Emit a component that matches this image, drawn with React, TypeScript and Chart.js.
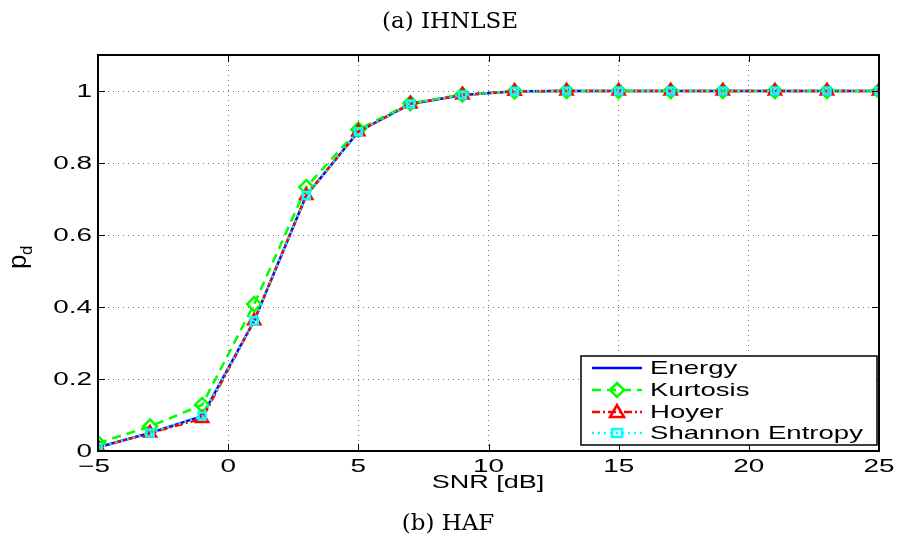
import React, { useEffect, useRef } from "react";
import { Chart, registerables } from "chart.js";

Chart.register(...registerables);

const snr = [-5, -3, -1, 1, 3, 5, 7, 9, 11, 13, 15, 17, 19, 21, 23, 25];
const energy = [0.01, 0.05, 0.097, 0.362, 0.71, 0.887, 0.964, 0.989, 0.999, 1, 1, 1, 1, 1, 1, 1];
const kurtosis = [0.022, 0.068, 0.128, 0.408, 0.733, 0.893, 0.966, 0.99, 0.999, 1, 1, 1, 1, 1, 1, 1];
const hoyer = [0.01, 0.05, 0.09, 0.362, 0.71, 0.887, 0.964, 0.989, 0.999, 1, 1, 1, 1, 1, 1, 1];
const shannon = [0.01, 0.05, 0.097, 0.362, 0.71, 0.887, 0.964, 0.989, 0.999, 1, 1, 1, 1, 1, 1, 1];
const seriesNames = ["Energy", "Kurtosis", "Hoyer", "Shannon Entropy"];
const xTicks = [-5, 0, 5, 10, 15, 20, 25];
const yTicks = [0, 0.2, 0.4, 0.6, 0.8, 1];

const SANS = "'Liberation Sans', Arial, sans-serif";
const SERIF = "'DejaVu Serif', 'Liberation Serif', serif";

const styles = [
  { color: "#0000ff", dash: [] as number[], marker: "none" },
  { color: "#00ff00", dash: [9, 6], marker: "rectRot" },
  { color: "#ff0000", dash: [8, 3, 2, 3], marker: "triangle" },
  { color: "#00ffff", dash: [2, 4], marker: "rect" },
];

function drawMarker(ctx: CanvasRenderingContext2D, kind: string, x: number, y: number, color: string) {
  ctx.save();
  ctx.setLineDash([]);
  ctx.strokeStyle = color;
  ctx.lineWidth = 2.5;
  ctx.beginPath();
  if (kind === "rectRot") {
    ctx.moveTo(x, y - 7);
    ctx.lineTo(x + 7, y);
    ctx.lineTo(x, y + 7);
    ctx.lineTo(x - 7, y);
    ctx.closePath();
  } else if (kind === "triangle") {
    ctx.moveTo(x, y - 7);
    ctx.lineTo(x + 7, y + 5);
    ctx.lineTo(x - 7, y + 5);
    ctx.closePath();
  } else if (kind === "rect") {
    ctx.rect(x - 5, y - 4, 10, 8);
  }
  if (kind !== "none") ctx.stroke();
  ctx.restore();
}

function stretchText(
  ctx: CanvasRenderingContext2D,
  text: string,
  x: number,
  y: number,
  align: "left" | "center" | "right",
  size: number,
  sx: number
) {
  ctx.save();
  ctx.font = `${size}px ${SANS}`;
  ctx.textBaseline = "middle";
  ctx.textAlign = "left";
  const w = ctx.measureText(text).width * sx;
  let left = x;
  if (align === "center") left = x - w / 2;
  if (align === "right") left = x - w;
  ctx.translate(left, y);
  ctx.scale(sx, 1);
  ctx.fillStyle = "#000";
  ctx.fillText(text, 0, 0);
  ctx.restore();
}

const fmtX = (v: number) => String(v).replace("-", "\u2212");
const fmtY = (v: number) => String(Number(v.toFixed(1)));

const framePlugin = {
  id: "frame",
  afterDraw(chart: any) {
    const ctx: CanvasRenderingContext2D = chart.ctx;
    const a = chart.chartArea;
    const xs = chart.scales.x;
    const ys = chart.scales.y;
    ctx.save();
    // inward ticks
    ctx.strokeStyle = "#000";
    ctx.lineWidth = 1;
    ctx.beginPath();
    xTicks.forEach((v) => {
      const px = Math.round(xs.getPixelForValue(v)) + 0.5;
      ctx.moveTo(px, a.bottom);
      ctx.lineTo(px, a.bottom - 7);
      ctx.moveTo(px, a.top);
      ctx.lineTo(px, a.top + 7);
    });
    yTicks.forEach((v) => {
      const py = Math.round(ys.getPixelForValue(v)) + 0.5;
      ctx.moveTo(a.left, py);
      ctx.lineTo(a.left + 7, py);
      ctx.moveTo(a.right, py);
      ctx.lineTo(a.right - 7, py);
    });
    ctx.stroke();
    // frame
    ctx.lineWidth = 2;
    ctx.strokeRect(a.left, a.top, a.right - a.left, a.bottom - a.top);

    // tick labels
    xTicks.forEach((v) => {
      stretchText(ctx, fmtX(v), xs.getPixelForValue(v) - (v < 0 ? 4 : 0), a.bottom + 16, "center", 18, 1.55);
    });
    yTicks.forEach((v) => {
      stretchText(ctx, fmtY(v), a.left - 6, ys.getPixelForValue(v) + 1, "right", 18, 1.55);
    });

    // legend
    const lx = 581, ly = 356, lw = 296, lh = 89;
    ctx.fillStyle = "#fff";
    ctx.fillRect(lx, ly, lw, lh);
    ctx.lineWidth = 1.5;
    ctx.strokeStyle = "#000";
    ctx.strokeRect(lx, ly, lw, lh);
    const rows = [368, 390, 412, 433];
    styles.forEach((s, i) => {
      const y = rows[i];
      ctx.save();
      ctx.strokeStyle = s.color;
      ctx.lineWidth = 2.5;
      ctx.setLineDash(s.dash);
      ctx.beginPath();
      ctx.moveTo(592, y);
      ctx.lineTo(642, y);
      ctx.stroke();
      ctx.restore();
      drawMarker(ctx, s.marker, 617, y, s.color);
      stretchText(ctx, seriesNames[i], 650, y + 1, "left", 19, 1.45);
    });

    // axis titles
    stretchText(ctx, "SNR [dB]", 488, 483, "center", 18, 1.5);
    ctx.fillStyle = "#000";
    ctx.textAlign = "center";
    ctx.textBaseline = "middle";
    ctx.font = `23px ${SERIF}`;
    ctx.fillText("(a) IHNLSE", 450, 22);
    ctx.fillText("(b) HAF", 448, 524);
    // y label p_d
    ctx.save();
    ctx.translate(22, 258);
    ctx.rotate(-Math.PI / 2);
    ctx.textAlign = "left";
    ctx.textBaseline = "alphabetic";
    ctx.font = `26px ${SANS}`;
    ctx.fillText("p", -11, 4);
    ctx.font = `17px ${SANS}`;
    ctx.fillText("d", 3, 10);
    ctx.restore();
    ctx.restore();
  },
};

export default function App() {
  const ref = useRef<HTMLCanvasElement | null>(null);
  useEffect(() => {
    if (!ref.current) return;
    const all = [energy, kurtosis, hoyer, shannon];
    const chart = new Chart(ref.current, {
      type: "line",
      data: {
        datasets: all.map((arr, i) => ({
          label: seriesNames[i],
          data: arr.map((v, j) => ({ x: snr[j], y: v })),
          borderColor: styles[i].color,
          backgroundColor: "transparent",
          borderWidth: 2.5,
          borderDash: styles[i].dash,
          pointStyle: styles[i].marker === "none" ? false : (styles[i].marker as any),
          pointRadius: styles[i].marker === "none" ? 0 : styles[i].marker === "rect" ? 5 : 7,
          pointBorderWidth: 2.5,
          pointBorderColor: styles[i].color,
          pointBackgroundColor: "transparent",
          tension: 0,
          fill: false,
          order: 3 - i,
        })),
      },
      options: {
        animation: false,
        responsive: false,
        maintainAspectRatio: false,
        layout: { padding: { left: 0, right: 18, top: 55, bottom: 0 } },
        plugins: { legend: { display: false }, tooltip: { enabled: false }, title: { display: false } },
        scales: {
          x: {
            type: "linear",
            min: -5,
            max: 25,
            afterFit: (s: any) => { s.height = 93; },
            afterBuildTicks: (s: any) => { s.ticks = xTicks.map((v) => ({ value: v })); },
            ticks: { display: false },
            grid: { color: "#777", lineWidth: 1, tickLength: 0, drawTicks: false } as any,
            border: { display: false, dash: [1, 4] } as any,
          },
          y: {
            type: "linear",
            min: 0,
            max: 1.1,
            afterFit: (s: any) => { s.width = 98; },
            afterBuildTicks: (s: any) => { s.ticks = yTicks.map((v) => ({ value: v })); },
            ticks: { display: false },
            grid: { color: "#777", lineWidth: 1, tickLength: 0, drawTicks: false } as any,
            border: { display: false, dash: [1, 4] } as any,
          },
        },
      },
      plugins: [framePlugin],
    });
    return () => chart.destroy();
  }, []);
  return (
    <div style={{ position: "fixed", left: 0, top: 0, width: 897, height: 544, background: "#fff" }}>
      <canvas ref={ref} width={897} height={544} style={{ width: 897, height: 544, display: "block" }} />
    </div>
  );
}
